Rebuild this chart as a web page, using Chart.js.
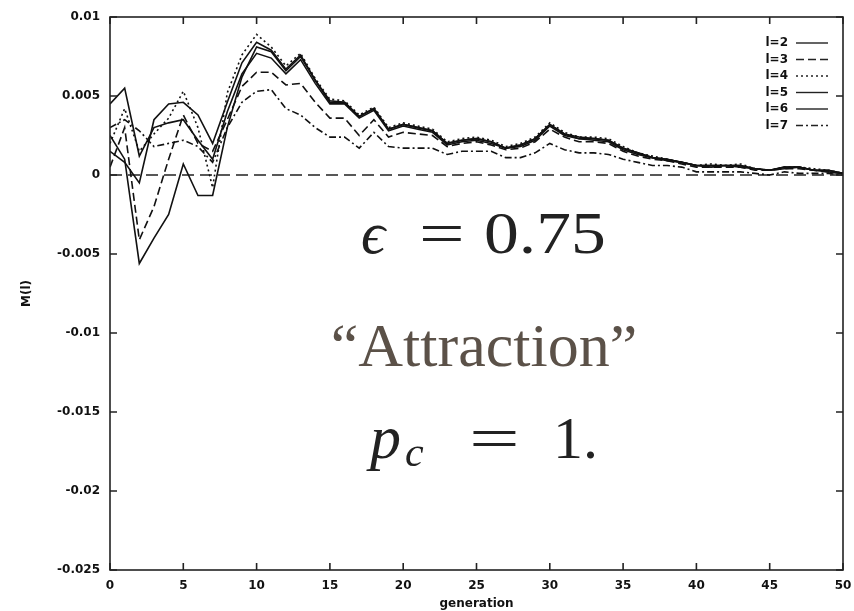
<!DOCTYPE html>
<html>
<head>
<meta charset="utf-8">
<script src="https://cdn.jsdelivr.net/npm/chart.js@4"></script>
<style>
  html, body { margin: 0; padding: 0; background: #fff; }
  #box { width: 854px; height: 611px; }
</style>
</head>
<body>
<div id="box"><canvas id="grafico"></canvas></div>
<script>
const geracoes = [];
for (let g = 0; g <= 50; g++) geracoes.push(g);

const yTicks = [0.01, 0.005, 0, -0.005, -0.01, -0.015, -0.02, -0.025];
const xTicks = [0, 5, 10, 15, 20, 25, 30, 35, 40, 45, 50];
const nomes = ["l=2", "l=3", "l=4", "l=5", "l=6", "l=7"];

const l2 = [0.0045, 0.0055, 0.0012, 0.0030, 0.0033, 0.0035, 0.0022, 0.0010, 0.0040, 0.0064,
  0.0077, 0.0074, 0.0064, 0.0073, 0.0058, 0.0045, 0.0045, 0.0036, 0.0041, 0.0028,
  0.0031, 0.0029, 0.0027, 0.0019, 0.0021, 0.0022, 0.0020, 0.0017, 0.0018, 0.0022,
  0.0031, 0.0025, 0.0023, 0.0022, 0.0021, 0.0016, 0.0013, 0.0011, 0.0009, 0.0008,
  0.0006, 0.0005, 0.0006, 0.0005, 0.0004, 0.0003, 0.0004, 0.0005, 0.0003, 0.0002, 0.0001];
const l3 = [0.0005, 0.0030, -0.0041, -0.0020, 0.0010, 0.0038, 0.0020, 0.0015, 0.0035, 0.0056,
  0.0065, 0.0065, 0.0057, 0.0058, 0.0046, 0.0036, 0.0036, 0.0025, 0.0035, 0.0024,
  0.0027, 0.0026, 0.0025, 0.0018, 0.0020, 0.0021, 0.0019, 0.0016, 0.0017, 0.0021,
  0.0029, 0.0024, 0.0021, 0.0021, 0.0020, 0.0015, 0.0012, 0.0010, 0.0009, 0.0007,
  0.0005, 0.0005, 0.0005, 0.0005, 0.0003, 0.0003, 0.0004, 0.0004, 0.0003, 0.0002, 0.0001];
const l4 = [0.0020, 0.0042, 0.0015, 0.0026, 0.0036, 0.0053, 0.0030, -0.0008, 0.0052, 0.0076,
  0.0089, 0.0081, 0.0069, 0.0077, 0.0061, 0.0048, 0.0047, 0.0038, 0.0043, 0.0030,
  0.0033, 0.0031, 0.0029, 0.0021, 0.0023, 0.0024, 0.0022, 0.0018, 0.0020, 0.0024,
  0.0033, 0.0027, 0.0024, 0.0024, 0.0023, 0.0018, 0.0014, 0.0012, 0.0010, 0.0008,
  0.0006, 0.0007, 0.0006, 0.0007, 0.0004, 0.0003, 0.0005, 0.0005, 0.0004, 0.0003, 0.0001];
const l5 = [0.0025, 0.0010, -0.0056, -0.0040, -0.0025, 0.0007, -0.0013, -0.0013, 0.0030, 0.0062,
  0.0081, 0.0078, 0.0066, 0.0075, 0.0060, 0.0046, 0.0046, 0.0037, 0.0042, 0.0029,
  0.0032, 0.0030, 0.0028, 0.0020, 0.0022, 0.0023, 0.0021, 0.0017, 0.0019, 0.0023,
  0.0032, 0.0026, 0.0023, 0.0023, 0.0022, 0.0017, 0.0014, 0.0011, 0.0010, 0.0008,
  0.0006, 0.0006, 0.0006, 0.0006, 0.0004, 0.0003, 0.0005, 0.0005, 0.0003, 0.0003, 0.0001];
const l6 = [0.0015, 0.0008, -0.0005, 0.0035, 0.0045, 0.0046, 0.0038, 0.0020, 0.0046, 0.0071,
  0.0084, 0.0079, 0.0067, 0.0076, 0.0060, 0.0047, 0.0046, 0.0037, 0.0042, 0.0029,
  0.0032, 0.0030, 0.0028, 0.0020, 0.0022, 0.0023, 0.0021, 0.0017, 0.0019, 0.0023,
  0.0032, 0.0026, 0.0024, 0.0023, 0.0022, 0.0017, 0.0014, 0.0011, 0.0010, 0.0008,
  0.0006, 0.0006, 0.0006, 0.0006, 0.0004, 0.0003, 0.0005, 0.0005, 0.0003, 0.0003, 0.0001];
const l7 = [0.0030, 0.0035, 0.0028, 0.0018, 0.0020, 0.0022, 0.0018, 0.0008, 0.0030, 0.0046,
  0.0053, 0.0054, 0.0042, 0.0038, 0.0030, 0.0024, 0.0024, 0.0017, 0.0027, 0.0018,
  0.0017, 0.0017, 0.0017, 0.0013, 0.0015, 0.0015, 0.0015, 0.0011, 0.0011, 0.0014,
  0.0020, 0.0016, 0.0014, 0.0014, 0.0013, 0.0010, 0.0008, 0.0006, 0.0006, 0.0005,
  0.0002, 0.0002, 0.0002, 0.0002, 0.0001, 0.0000, 0.0002, 0.0001, 0.0001, 0.0001, 0.0000];

const series = [l2, l3, l4, l5, l6, l7];
const tracos = [[], [8, 4], [2, 3], [], [], [7, 3, 2, 3]];

const datasets = series.map((s, i) => ({
  label: nomes[i],
  data: geracoes.map((g, k) => ({ x: g, y: s[k] })),
  borderColor: '#111',
  borderWidth: 1.6,
  borderDash: tracos[i],
  pointRadius: 0,
  tension: 0,
  fill: false
}));

const fonteEixo = { family: '"DejaVu Sans", sans-serif', size: 12, weight: 'bold' };

// escreve texto esticado na horizontal
function textoLargo(ctx, txt, x, y, sx) {
  ctx.save();
  ctx.translate(x, y);
  ctx.scale(sx, 1);
  ctx.fillText(txt, 0, 0);
  ctx.restore();
}

// frame, inward ticks, zero line, legend and the text labels
const molduraPlugin = {
  id: 'moldura',
  beforeDatasetsDraw(chart) {
    const { ctx, chartArea: a, scales } = chart;
    const y0 = scales.y.getPixelForValue(0);
    ctx.save();
    ctx.strokeStyle = '#222';
    ctx.lineWidth = 1.6;
    ctx.setLineDash([12, 6]);
    ctx.beginPath();
    ctx.moveTo(a.left, y0);
    ctx.lineTo(a.right, y0);
    ctx.stroke();
    ctx.restore();
  },
  afterDatasetsDraw(chart) {
    const { ctx, chartArea: a, scales } = chart;
    ctx.save();
    ctx.strokeStyle = '#222';
    ctx.lineWidth = 1.6;
    ctx.strokeRect(a.left, a.top, a.right - a.left, a.bottom - a.top);
    ctx.beginPath();
    xTicks.forEach(v => {
      const px = scales.x.getPixelForValue(v);
      ctx.moveTo(px, a.bottom); ctx.lineTo(px, a.bottom - 7);
      ctx.moveTo(px, a.top); ctx.lineTo(px, a.top + 7);
    });
    yTicks.forEach(v => {
      const py = scales.y.getPixelForValue(v);
      ctx.moveTo(a.left, py); ctx.lineTo(a.left + 7, py);
      ctx.moveTo(a.right, py); ctx.lineTo(a.right - 7, py);
    });
    ctx.stroke();

    // legenda
    ctx.font = 'bold 12px "DejaVu Sans", sans-serif';
    ctx.fillStyle = '#111';
    ctx.textAlign = 'right';
    ctx.textBaseline = 'middle';
    chart.data.datasets.forEach((d, i) => {
      const yy = 43 + i * 16.5;
      ctx.fillText(d.label, 788, yy);
      ctx.setLineDash(d.borderDash);
      ctx.lineWidth = 1.4;
      ctx.beginPath();
      ctx.moveTo(796, yy);
      ctx.lineTo(828, yy);
      ctx.stroke();
    });
    ctx.setLineDash([]);

    // textos grandes
    ctx.textAlign = 'left';
    ctx.textBaseline = 'alphabetic';
    ctx.fillStyle = '#222';
    ctx.font = 'italic 60px "Liberation Serif", serif';
    ctx.fillText('\u03f5', 361, 253);
    ctx.font = '60px "Liberation Serif", serif';
    textoLargo(ctx, '=', 419, 253, 1.35);
    textoLargo(ctx, '0.75', 484, 253, 1.16);

    ctx.fillStyle = '#5b5148';
    ctx.textAlign = 'center';
    ctx.font = '62px "Liberation Serif", serif';
    ctx.fillText('\u201cAttraction\u201d', 484, 366);

    ctx.fillStyle = '#222';
    ctx.textAlign = 'left';
    ctx.font = 'italic 62px "Liberation Serif", serif';
    ctx.fillText('p', 370, 458);
    ctx.font = 'italic 42px "Liberation Serif", serif';
    ctx.fillText('c', 405, 466);
    ctx.font = '60px "Liberation Serif", serif';
    textoLargo(ctx, '=', 469, 458, 1.5);
    ctx.fillText('1.', 553, 458);
    ctx.restore();
  }
};

const ctx = document.getElementById('grafico').getContext('2d');
const grafico = new Chart(ctx, {
  type: 'line',
  data: { datasets: datasets },
  options: {
    responsive: true,
    maintainAspectRatio: false,
    animation: false,
    layout: { padding: { top: 17, right: 11, left: 0, bottom: 0 } },
    plugins: {
      legend: { display: false },
      tooltip: { enabled: false }
    },
    scales: {
      x: {
        type: 'linear',
        min: 0,
        max: 50,
        grid: { display: false, drawTicks: false },
        border: { display: false },
        afterBuildTicks: s => { s.ticks = xTicks.map(v => ({ value: v })); },
        ticks: {
          color: '#111',
          padding: 9,
          maxRotation: 0,
          font: fonteEixo
        },
        title: {
          display: true,
          text: 'generation',
          color: '#111',
          padding: { top: 0, bottom: 0 },
          font: fonteEixo
        },
        afterFit: s => { s.height = 41; s.paddingLeft = 0; s.paddingRight = 0; }
      },
      y: {
        min: -0.025,
        max: 0.01,
        grid: { display: false, drawTicks: false },
        border: { display: false },
        afterBuildTicks: s => { s.ticks = yTicks.map(v => ({ value: v })); },
        ticks: {
          color: '#111',
          padding: 10,
          callback: v => String(Number(v.toFixed(4))),
          font: fonteEixo
        },
        title: {
          display: true,
          text: 'M(l)',
          color: '#111',
          padding: { top: 20, bottom: 0 },
          font: fonteEixo
        },
        afterFit: s => { s.width = 110; s.paddingTop = 0; s.paddingBottom = 0; }
      }
    }
  },
  plugins: [molduraPlugin]
});
</script>
</body>
</html>
